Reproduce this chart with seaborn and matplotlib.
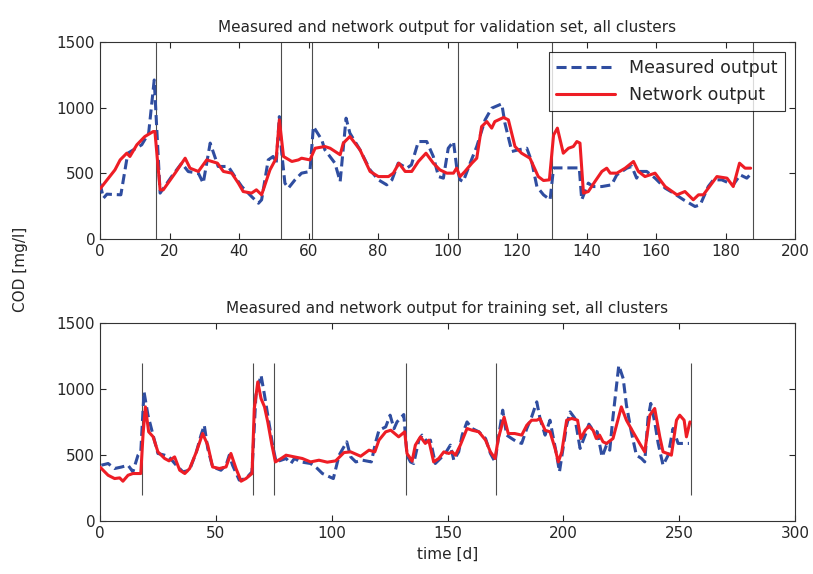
import numpy as np
import pandas as pd
import matplotlib
matplotlib.use("Agg")
import matplotlib.pyplot as plt
import seaborn as sns

sns.set_style("ticks")
plt.rcParams["font.family"] = ["DejaVu Sans"]

# ---- validation set (top panel) ----
val_meas_x = [0, 1, 2, 6, 8, 12, 14, 15.6, 17.3, 20.6, 23.5, 25.4, 28.3, 29.7, 31.7, 34, 36.9,
              38.8, 40.8, 43.6, 45.6, 46.5, 48.4, 49.8, 50.7, 51.6, 52.2, 53.2, 54.2, 56.1, 58,
              60.4, 61.4, 63.8, 64.7, 67.6, 69.1, 70.8, 71.9, 74.8, 77.7, 80.1, 82.5, 84, 85.8,
              88.3, 89.6, 91.6, 94, 95.9, 97.4, 98.8, 100.2, 101.7, 102.6, 103.6, 104.5, 106.5,
              108.4, 110.8, 112.7, 115.6, 116.5, 118.5, 120.4, 122.8, 124.2, 125.7, 127.6, 129.5,
              130.5, 133.3, 137.9, 138.6, 140.5, 141.9, 144.4, 147.2, 148.7, 151.6, 153, 154.4,
              155.4, 157.3, 159.7, 162.6, 165, 167.9, 171.2, 172.7, 175, 176.5, 178.9, 182.2,
              184.2, 186.1, 187.5]
val_meas_y = [420, 310, 340, 335, 652, 716, 805, 1210, 348, 474, 576, 512, 500, 424, 729, 551, 551,
              474, 398, 322, 271, 297, 601, 627, 576, 931, 678, 424, 386, 449, 500,
              513, 855, 754, 678, 576, 436, 919, 805, 678, 525, 449, 411, 449, 576,
              538, 563, 741, 741, 627, 474, 462, 690, 741, 551, 449, 436, 576,
              703, 906, 995, 1028, 881, 665, 678, 690, 589, 398, 335, 297,
              540, 540, 540, 297, 424, 398, 398, 411, 487, 538, 551, 462,
              513, 513, 462, 386, 348, 297, 246, 259, 398, 449, 449, 411,
              487, 462, 500]

val_net_x = [0, 4.3, 5.8, 7.7, 8.6, 10.6, 12.9, 15.3, 15.8, 17.3, 18.2, 21.6, 24.5, 25.9, 28.3,
             30.7, 33.8, 35.5, 37.9, 39.8, 41.2, 43.6, 45, 46.5, 48.9, 50.7, 51.6, 52.8, 55.2,
             57.1, 58, 60.4, 61.9, 64.7, 66.2, 69.1, 70, 71.9, 74.8, 77.7, 80.1, 83, 84.4, 86,
             87.8, 89.7, 91.6, 93.8, 95.9, 97.8, 99.8, 101.7, 102.6, 103.6, 105, 107, 108.4,
             109.8, 111.3, 112.7, 113.6, 116.1, 117.5, 119.4, 121.3, 123.7, 126.1, 127.6, 129.3,
             130.5, 131.6, 133.3, 134.8, 136.2, 137.2, 138.1, 139.1, 140.5, 142.4, 144.4, 145.8,
             146.8, 148.7, 151.1, 153.5, 154.9, 156.8, 159.7, 162.6, 166, 168.3, 170.7, 172.2,
             173.6, 177.5, 180.4, 182.2, 184, 185.6, 187.2]
val_net_y = [380, 525, 601, 652, 627, 716, 779, 817, 817, 373, 373, 500, 614, 538, 513,
             601, 576, 513, 500, 424, 360, 348, 373, 335, 525, 614, 906, 627, 589,
             601, 614, 601, 690, 703, 690, 640, 729, 779, 678, 513, 474, 474, 500, 576,
             513, 513, 589, 652, 576, 525, 500, 500, 538, 474, 513, 576, 614,
             855, 893, 843, 893, 924, 906, 703, 652, 614, 474, 444, 449,
             790, 843, 652, 690, 703, 741, 729, 348, 360, 436, 513, 538,
             500, 500, 538, 589, 513, 474, 500, 398, 335, 360, 297, 335,
             335, 474, 462, 398, 576, 538, 538]

val_cuts = [16, 52, 61, 103, 130, 188]

# ---- training set (bottom panel) ----
train_meas_x = [0.6, 3.5, 6.3, 9.2, 12.1, 14.2, 16.4, 17.6, 19, 20.7, 22.9, 25, 27.9, 29.8, 32.9,
                35.8, 38.6, 41.6, 43.6, 45, 46.5, 48.6, 52.2, 54.4, 55.8, 57.2, 60.1, 63, 65.6,
                67.3, 69.5, 71, 72.4, 74.5, 76, 78.2, 80.3, 82.4, 83.9, 86.6, 90.9, 93.8, 96,
                98.2, 100.7, 103.2, 106.5, 108.2, 110.4, 113.3, 117.1, 119, 120.4, 123.3, 125.2,
                126.9, 128.2, 131.1, 132.5, 134, 135.4, 137.6, 139, 141.2, 142.6, 144.7, 146.9,
                149, 151.2, 152.7, 154.8, 156.3, 158.4, 160.6, 163.5, 166.4, 168.5, 170.5, 171.9,
                173.8, 175.5, 177.7, 179.9, 182, 184.2, 186.3, 188.5, 189.9, 192.1, 194.2, 195.7,
                197.1, 198.3, 199.6, 201.4, 202.9, 205, 207.2, 209.4, 211, 212.8, 214.6, 216.7,
                218.6, 220, 221.4, 223.9, 225.8, 227.2, 229.3, 231.5, 233.7, 235.1, 236.5, 237.7,
                239.4, 240.9, 243, 245.2, 247.3, 249.5, 251.7, 254.2]
train_meas_y = [424, 437, 399, 410, 424, 374, 500, 525, 980, 803, 652, 513, 500, 487, 424,
                374, 386, 525, 652, 727, 551, 411, 386, 424, 500, 424, 311, 323, 374,
                955, 1106, 955, 803, 576, 449, 462, 475, 437, 475, 449, 437, 399, 361,
                343, 323, 500, 601, 487, 449, 462, 449, 601, 689, 714, 803,
                701, 752, 808, 500, 449, 437, 614, 652, 601, 614, 437, 475,
                513, 576, 462, 525, 652, 752, 702, 677, 626, 513, 449, 626,
                841, 652, 626, 601, 589, 702, 790, 904, 778, 652, 765, 626,
                500, 374, 525, 727, 828, 778, 551, 652, 735, 689, 677, 487,
                576, 538, 790, 1180, 1081, 879, 677, 500, 475, 449, 778, 892,
                752, 589, 424, 500, 702, 589, 589, 589]

train_net_x = [0, 3.5, 6.3, 8.5, 9.9, 12.1, 14.2, 17.6, 18.6, 19.6, 21, 22.9, 25, 27.9, 29.8,
               32.2, 34.4, 36.6, 38.7, 41.6, 44.3, 46.5, 48.6, 51.5, 54.4, 56.5, 58.7, 60.9, 63,
               65.6, 66.6, 68.1, 69.5, 71, 72.4, 74.2, 75.7, 78.2, 80.3, 83.9, 87.3, 90.9, 94.5,
               98.1, 101.7, 105.3, 108.2, 112.5, 116.1, 118.6, 120.4, 123.3, 125.5, 128.9, 131.5,
               132.5, 134.7, 136.1, 138.3, 140.4, 141.9, 144, 146.2, 148.4, 150.5, 152, 153.4,
               155.5, 158.4, 160.6, 163.5, 166.4, 168.5, 170.5, 171.9, 174.4, 176.2, 179, 182,
               184.2, 186.3, 188.5, 189.9, 192.1, 194.2, 196.4, 197.8, 199.3, 201.4, 203.6, 206.1,
               207.5, 209.4, 211, 212.8, 214.2, 215.6, 217.1, 218.6, 221.4, 225, 227.2, 230,
               232.9, 235.1, 237.3, 239.4, 241.6, 243, 244.9, 246.6, 248.8, 250.2, 252.1, 253.1,
               254.6]
train_net_y = [410, 348, 323, 328, 303, 348, 361, 361, 664, 866, 677, 640, 525, 475, 457,
               487, 386, 361, 399, 525, 664, 576, 411, 399, 411, 513, 399, 303, 323,
               361, 854, 1055, 929, 866, 752, 576, 449, 475, 500, 487, 475, 449, 462,
               447, 457, 520, 525, 492, 538, 525, 614, 677, 689, 639, 677,
               513, 455, 576, 639, 589, 614, 449, 475, 525, 513, 525, 500,
               576, 702, 689, 677, 614, 525, 475, 626, 788, 664, 664, 652,
               727, 765, 765, 778, 689, 677, 551, 449, 525, 765, 778, 765,
               626, 689, 720, 689, 626, 652, 601, 589, 626, 866, 765, 677,
               589, 525, 803, 854, 639, 525, 513, 500, 765, 803, 765, 639,
               752]

train_cuts = [18, 66, 75, 132, 171, 255]

blue = "#2f4da0"
red = "#ee1d25"

fig = plt.figure(figsize=(8.13, 5.74), dpi=100)
ax1 = fig.add_axes([0.123, 0.584, 0.855, 0.343])
ax2 = fig.add_axes([0.123, 0.092, 0.855, 0.345])

panels = [
    (ax1, val_meas_x, val_meas_y, val_net_x, val_net_y, val_cuts, (0, 1500), (0, 200),
     np.arange(0, 201, 20), "Measured and network output for validation set, all clusters"),
    (ax2, train_meas_x, train_meas_y, train_net_x, train_net_y, train_cuts, (200, 1200), (0, 300),
     np.arange(0, 301, 50), "Measured and network output for training set, all clusters"),
]

for ax, mx, my, nx, ny, cuts, vspan, xlim, xticks, title in panels:
    ax.vlines(cuts, vspan[0], vspan[1], color="0.3", lw=0.8, zorder=1)
    sns.lineplot(x=mx, y=my, ax=ax, color=blue, lw=2.2, estimator=None,
                 label="Measured output", zorder=3)
    ax.lines[-1].set_linestyle((0, (3.3, 1.6)))
    sns.lineplot(x=nx, y=ny, ax=ax, color=red, lw=2.2, estimator=None,
                 label="Network output", zorder=4)
    ax.set_xlim(*xlim)
    ax.set_ylim(0, 1500)
    ax.set_xticks(xticks)
    ax.set_yticks([0, 500, 1000, 1500])
    ax.tick_params(direction="in", top=True, right=True, labelsize=11, length=4, width=0.8)
    for s in ax.spines.values():
        s.set_linewidth(0.8)
        s.set_color("0.2")
    ax.set_title(title, fontsize=11, pad=7)
    ax.set_xlabel("")
    ax.set_ylabel("")

leg = ax1.legend(loc="upper right", fontsize=12.5, frameon=True, fancybox=False,
                 edgecolor="black", handlelength=3.4, borderaxespad=0.6)
leg.get_frame().set_linewidth(0.8)
ax2.get_legend().remove()

ax2.set_xlabel("time [d]", fontsize=11)
fig.text(0.025, 0.53, "COD [mg/l]", rotation=90, va="center", ha="center", fontsize=11)

fig.savefig("out.png", dpi=100, facecolor="white")
